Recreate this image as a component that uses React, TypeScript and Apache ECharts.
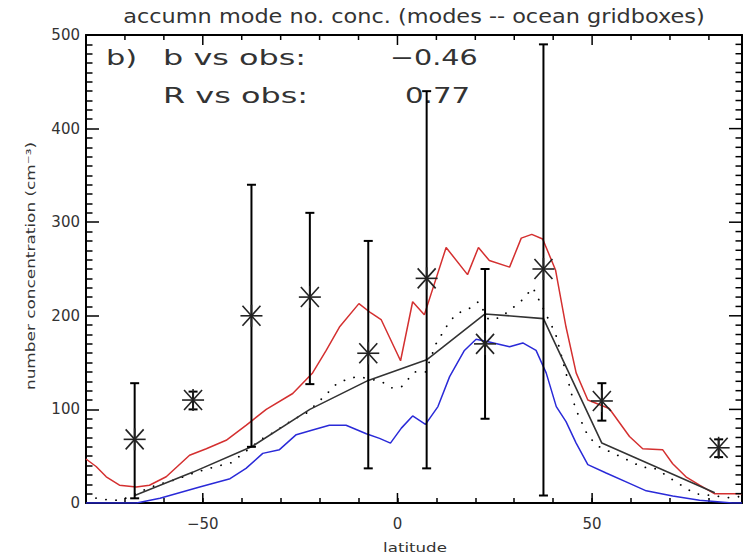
import React, { useEffect, useRef } from "react";
import * as echarts from "echarts";

// ---- data ----
const titleText = "accumn mode no. conc. (modes -- ocean gridboxes)";
const yTitle = "number concentration (cm\u207B\u00B3)";
const xTitle = "latitude";
const panelLabel = "b)";
const statLabels = ["b vs obs:", "R vs obs:"];
const statValues = ["\u22120.46", "0.77"];

const xMajorTicks = [-50, 0, 50];
const xFrameTicks = [-70, -60, -50, -40, -30, -20, -10, 0, 10, 20, 30, 40, 50, 60, 70, 80];
const yFrameTicks = [10, 20, 30, 40, 50, 60, 70, 80, 90, 100, 110, 120, 130, 140, 150, 160, 170, 180, 190, 200, 210, 220, 230, 240, 250, 260, 270, 280, 290, 300, 310, 320, 330, 340, 350, 360, 370, 380, 390, 400, 410, 420, 430, 440, 450, 460, 470, 480, 490];

// red model line
const redLat = [-80, -77.4, -74.8, -71.4, -67.1, -63.7, -59.4, -53.4, -49.1, -44, -38.9, -33.7, -26.9, -21.8, -18.3, -14.9, -9.9, -6.8, -4.2, 0.8, 3.9, 6.9, 12.5, 18, 20.8, 23.6, 28.8, 31.8, 34.5, 37.3, 40.6, 43.3, 45.9, 48.9, 54.4, 59.6, 63, 68.1, 70.7, 74.1, 77.6, 81.4, 88.5];
const redVal = [47, 39, 28, 19, 17, 19, 28, 51, 58, 67, 83, 100, 117, 139, 163, 188, 213, 203, 196, 152, 215, 201, 273, 244, 273, 259, 252, 283, 287, 282, 249, 188, 139, 110, 101, 71, 58, 57, 42, 28, 19, 10, 10];

// blue model line
const blueLat = [-80, -67, -61, -50.8, -43, -38.9, -34.6, -30.3, -26, -21.8, -17.5, -13.2, -8, -4.6, -1.8, 1, 3.9, 7.2, 10.4, 13.4, 17.2, 20.2, 23.6, 28.8, 32.2, 35.6, 38.2, 40.8, 43.3, 45.9, 48.9, 53.6, 59.6, 63.9, 70.7, 77.6, 86, 88.5];
const blueVal = [0, 0, 5, 17, 26, 37, 53, 57, 73, 78, 83, 83, 74, 69, 64, 80, 93, 84, 103, 135, 163, 175, 172, 167, 171, 163, 139, 103, 87, 64, 41, 32, 21, 13, 7.5, 3, 0, 0];

// dotted model line
const dotLat = [-80, -77, -74, -71, -65, -62, -57, -51.7, -46.6, -42.7, -35, -31.6, -26.9, -23.4, -21.3, -18.3, -15.7, -12.6, -10, -4.2, -1.6, 1, 4.4, 7.2, 9.9, 12.5, 15, 18.2, 20.8, 23.4, 26.4, 31.6, 34.8, 40.6, 45.7, 48.9, 51.4, 59.6, 63, 65.6, 68.1, 71.1, 73.7, 76.3, 79.7, 84.8, 88.5];
const dotVal = [7, 5, 3, 3, 14, 19, 25, 33, 39, 43, 68, 76, 89, 96, 104, 116, 127, 133, 135, 130, 123, 124, 140, 140, 170, 188, 202, 207, 215, 196, 198, 215, 230, 181, 101, 72, 61, 45, 38, 38, 32, 23.5, 17, 10, 8.5, 5.7, 7];

// model sampled at obs latitudes (solid black)
const blackLat = [-67.5, -52.5, -37.5, -22.5, -7.5, 7.5, 22.5, 37.5, 52.5, 81.5];
const blackVal = [8, 33, 60, 100, 131, 153, 202, 197, 64, 11];

// observations with ranges
const obsLat = [-67.5, -52.5, -37.5, -22.5, -7.5, 7.5, 22.5, 37.5, 52.5, 82.5];
const obsVal = [68, 110, 200, 220, 160, 240, 170, 250, 109, 59];
const obsLow = [5, 100, 60, 127, 37, 37, 90, 8, 88, 49];
const obsHigh = [128, 119, 340, 310, 280, 440, 250, 490, 128, 68];

const X_MIN = -80;
const X_MAX = 88.5;
const Y_MIN = 0;
const Y_MAX = 500;

const FONT = "DejaVu Sans";

const pairs = (xs: number[], ys: number[]) => xs.map((x, i) => [x, ys[i]]);

const fmtX = (v: number) =>
  xMajorTicks.includes(v) ? String(v).replace("-", "\u2212") : "";

function makeOption() {
  const obsData = obsLat.map((l, i) => [l, obsVal[i], obsLow[i], obsHigh[i]]);

  const textStyle = (text: string, size: number, align = "left") => ({
    text,
    x: 0,
    y: 0,
    fontFamily: FONT,
    fontSize: size,
    fill: "#333",
    align,
    verticalAlign: "middle",
  });

  const tickSeg = (x1: number, y1: number, x2: number, y2: number) => ({
    type: "line",
    shape: { x1, y1, x2, y2 },
    style: { stroke: "#000", lineWidth: 1.5 },
  });

  return {
    animation: false,
    backgroundColor: "#fff",
    grid: { left: 86, right: 5, top: 35, bottom: 55 },
    xAxis: [
      {
        type: "value",
        position: "bottom",
        min: X_MIN,
        max: X_MAX,
        interval: 10,
        splitLine: { show: false },
        axisLine: { show: true, onZero: false, lineStyle: { color: "#000", width: 2 } },
        axisTick: { show: true, inside: true, length: 5, lineStyle: { color: "#000", width: 1.5 } },
        axisLabel: {
          show: true,
          formatter: fmtX,
          fontFamily: FONT,
          fontSize: 15,
          color: "#333",
          margin: 13,
        },
      },
      {
        type: "value",
        position: "top",
        min: X_MIN,
        max: X_MAX,
        interval: 10,
        splitLine: { show: false },
        axisLine: { show: true, onZero: false, lineStyle: { color: "#000", width: 2 } },
        axisTick: { show: false },
        axisLabel: { show: false },
      },
    ],
    yAxis: [
      {
        type: "value",
        position: "left",
        min: Y_MIN,
        max: Y_MAX,
        interval: 100,
        axisLine: { show: true, onZero: false, lineStyle: { color: "#000", width: 2 } },
        axisTick: { show: true, inside: true, length: 13, lineStyle: { color: "#000", width: 1.5 } },
        minorTick: { show: true, splitNumber: 10, length: 6.5, lineStyle: { color: "#000", width: 1.5 } },
        splitLine: { show: false },
        axisLabel: { show: true, fontFamily: FONT, fontSize: 15, color: "#333", margin: 6 },
      },
      {
        type: "value",
        position: "right",
        min: Y_MIN,
        max: Y_MAX,
        interval: 100,
        axisLine: { show: true, onZero: false, lineStyle: { color: "#000", width: 2 } },
        axisTick: { show: false },
        splitLine: { show: false },
        axisLabel: { show: false },
      },
    ],
    graphic: [
      { type: "text", x: 414, y: 16, scaleX: 1.12, style: textStyle(titleText, 20, "center") },
      { type: "text", x: 31, y: 266, rotation: Math.PI / 2, scaleX: 1.3, style: textStyle(yTitle, 13, "center") },
      { type: "text", x: 415, y: 548, scaleX: 1.28, style: textStyle(xTitle, 13, "center") },
      { type: "text", x: 106, y: 57, scaleX: 1.38, style: textStyle(panelLabel, 22) },
      { type: "text", x: 163, y: 57, scaleX: 1.45, style: textStyle(statLabels[0], 22) },
      { type: "text", x: 390, y: 57, scaleX: 1.3, style: textStyle(statValues[0], 22) },
      { type: "text", x: 163, y: 95, scaleX: 1.45, style: textStyle(statLabels[1], 22) },
      { type: "text", x: 405, y: 95, scaleX: 1.33, style: textStyle(statValues[1], 22) },
    ],
    series: [
      {
        type: "line",
        data: pairs(redLat, redVal),
        symbol: "none",
        lineStyle: { color: "#d43030", width: 1.5 },
        z: 2,
      },
      {
        type: "line",
        data: pairs(blueLat, blueVal),
        symbol: "none",
        lineStyle: { color: "#2a2ad8", width: 1.5 },
        z: 2,
      },
      {
        type: "line",
        data: pairs(dotLat, dotVal),
        symbol: "none",
        lineStyle: { color: "#000", width: 1.8, type: [0.1, 10], cap: "round" },
        z: 3,
      },
      {
        type: "line",
        data: pairs(blackLat, blackVal),
        symbol: "none",
        lineStyle: { color: "#333", width: 1.6 },
        z: 3,
      },
      {
        type: "custom",
        data: obsData,
        encode: { x: 0, y: [1, 2, 3] },
        z: 5,
        renderItem: (_params: any, api: any) => {
          const lat = api.value(0);
          const c = api.coord([lat, api.value(1)]);
          const lo = api.coord([lat, api.value(2)]);
          const hi = api.coord([lat, api.value(3)]);
          const bar = { stroke: "#000", lineWidth: 2 };
          const star = { stroke: "#222", lineWidth: 1.6 };
          const cap = 4.5;
          const ln = (x1: number, y1: number, x2: number, y2: number, style: any) => ({
            type: "line",
            shape: { x1, y1, x2, y2 },
            style,
          });
          return {
            type: "group",
            children: [
              ln(lo[0], lo[1], hi[0], hi[1], bar),
              ln(lo[0] - cap, lo[1], lo[0] + cap, lo[1], bar),
              ln(hi[0] - cap, hi[1], hi[0] + cap, hi[1], bar),
              ln(c[0] - 11, c[1], c[0] + 11, c[1], star),
              ln(c[0], c[1] - 11, c[0], c[1] + 11, star),
              ln(c[0] - 9, c[1] - 10, c[0] + 9, c[1] + 10, star),
              ln(c[0] - 9, c[1] + 10, c[0] + 9, c[1] - 10, star),
            ],
          };
        },
      },
      {
        // ticks on the top frame, and the longer labelled ticks on the bottom frame
        type: "custom",
        data: xFrameTicks.map((v) => [v, 250]),
        encode: { x: 0, y: 1 },
        z: 6,
        renderItem: (_params: any, api: any) => {
          const v = api.value(0);
          const pb = api.coord([v, Y_MIN]);
          const pt = api.coord([v, Y_MAX]);
          const major = xMajorTicks.indexOf(v) >= 0;
          const len = major ? 10 : 5;
          const kids: any[] = [tickSeg(pt[0], pt[1], pt[0], pt[1] + len)];
          if (major) kids.push(tickSeg(pb[0], pb[1], pb[0], pb[1] - len));
          return { type: "group", children: kids };
        },
      },
      {
        // ticks on the right frame
        type: "custom",
        data: yFrameTicks.map((v) => [0, v]),
        encode: { x: 0, y: 1 },
        z: 6,
        renderItem: (_params: any, api: any) => {
          const v = api.value(1);
          const p = api.coord([X_MAX, v]);
          const len = v % 100 === 0 ? 13 : 6.5;
          return { type: "group", children: [tickSeg(p[0], p[1], p[0] - len, p[1])] };
        },
      },
    ],
  };
}

export default function App() {
  const ref = useRef<HTMLDivElement>(null);
  useEffect(() => {
    if (!ref.current) return;
    const chart = echarts.init(ref.current, null, { renderer: "svg" });
    chart.setOption(makeOption() as any);
    return () => chart.dispose();
  }, []);
  return (
    <div
      ref={ref}
      style={{ position: "fixed", left: 0, top: 0, width: 747, height: 558, background: "#fff" }}
    />
  );
}
